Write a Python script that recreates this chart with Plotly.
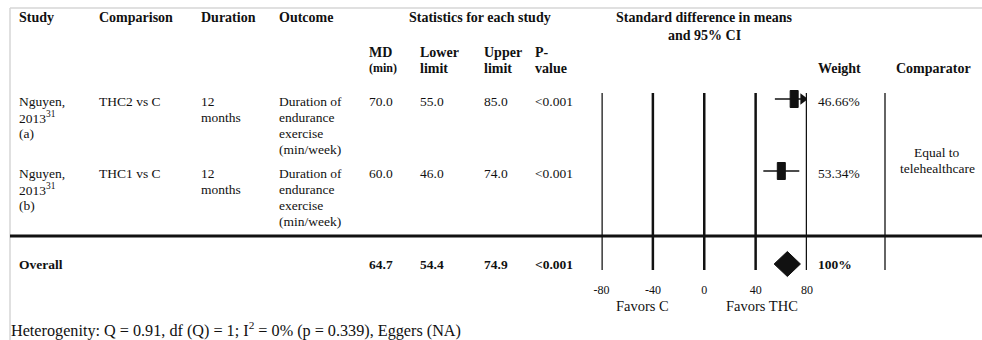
import plotly.graph_objects as go

# ---- data -------------------------------------------------------------
study_labels = ["Nguyen,<br>2013<sup>31</sup><br>(a)", "Nguyen,<br>2013<sup>31</sup><br>(b)"]
comparisons = ["THC2 vs C", "THC1 vs C"]
durations = ["12<br>months", "12<br>months"]
outcomes = ["Duration of<br>endurance<br>exercise<br>(min/week)",
            "Duration of<br>endurance<br>exercise<br>(min/week)"]
md = [70.0, 60.0]
lower = [55.0, 46.0]
upper = [85.0, 74.0]
p_values = ["<0.001", "<0.001"]
weights = [46.66, 53.34]

overall_md = 64.7
overall_lower = 54.4
overall_upper = 74.9
overall_p = "<0.001"
overall_weight = "100%"

comparator = "Equal to<br>telehealthcare"
heterogeneity = ("Heterogenity: Q = 0.91, df (Q) = 1; I<sup>2</sup> = 0% (p = 0.339), "
                 "Eggers (NA)")

axis_ticks = [-80, -40, 0, 40, 80]
axis_min, axis_max = -80, 80
favors_left = "Favors C"
favors_right = "Favors THC"

# ---- layout constants (pixels) ---------------------------------------
W, H = 982, 340
FONT = "Liberation Serif, Times New Roman, serif"
INK = "#111111"
LINE_H = 16
BODY = 13.5
HEAD = 14

row_y = [101, 173]          # first text line of each study row
mark_y = [99, 171]          # CI line / box centre of each study row
overall_y = 264
plot_top, plot_bottom = 93, 270
col_x = {"study": 18, "comp": 98, "dur": 200, "out": 278, "md": 368,
         "lo": 419, "hi": 483, "p": 534, "w": 817, "cmp": 895}
forest_left_px, forest_right_px = 601.5, 807.0

fig = go.Figure()
annotations = []
shapes = []


def px(x):
    return x / W


def text(x, y, s, size=BODY, bold=False, anchor="left"):
    """Place (possibly multi-line) text; each line gets its own annotation."""
    for i, line in enumerate(s.split("<br>")):
        if bold:
            line = f"<b>{line}</b>"
        annotations.append(dict(
            x=px(x), y=y + i * LINE_H, xref="paper", yref="y",
            text=line, showarrow=False, xanchor=anchor, yanchor="middle",
            borderpad=0,
            font=dict(family=FONT, size=size, color=INK)))


# ---- headers ---------------------------------------------------------
text(col_x["study"], 17, "Study", HEAD, True)
text(col_x["comp"], 17, "Comparison", HEAD, True)
text(col_x["dur"], 17, "Duration", HEAD, True)
text(col_x["out"], 17, "Outcome", HEAD, True)
text(480, 17, "Statistics for each study", HEAD, True, "center")
text(704, 17, "Standard difference in means", HEAD, True, "center")
text(704, 35, "and 95% CI", HEAD, True, "center")
text(col_x["md"], 52, "MD", HEAD, True)
text(col_x["md"], 68, "(min)", 12, True)
text(col_x["lo"], 52, "Lower<br>limit", HEAD, True)
text(col_x["hi"], 52, "Upper<br>limit", HEAD, True)
text(col_x["p"], 52, "P-<br>value", HEAD, True)
text(col_x["w"], 68, "Weight", HEAD, True)
text(col_x["cmp"], 68, "Comparator", HEAD, True)

# ---- study rows ------------------------------------------------------
for i in range(len(md)):
    y = row_y[i]
    text(col_x["study"], y, study_labels[i])
    text(col_x["comp"], y, comparisons[i])
    text(col_x["dur"], y, durations[i])
    text(col_x["out"], y, outcomes[i])
    text(col_x["md"], y, f"{md[i]:.1f}")
    text(col_x["lo"], y, f"{lower[i]:.1f}")
    text(col_x["hi"], y, f"{upper[i]:.1f}")
    text(col_x["p"], y, p_values[i])
    text(col_x["w"], y, f"{weights[i]:.2f}%")

text(937, 152, comparator, BODY, False, "center")

# ---- overall row -----------------------------------------------------
text(col_x["study"], overall_y, "Overall", BODY, True)
text(col_x["md"], overall_y, f"{overall_md:.1f}", BODY, True)
text(col_x["lo"], overall_y, f"{overall_lower:.1f}", BODY, True)
text(col_x["hi"], overall_y, f"{overall_upper:.1f}", BODY, True)
text(col_x["p"], overall_y, overall_p, BODY, True)
text(col_x["w"], overall_y, overall_weight, BODY, True)

text(10, 329, heterogeneity, 16.2)
text(642, 306, favors_left, 14.5, False, "center")
text(762, 306, favors_right, 14.5, False, "center")

# ---- frame and grid lines --------------------------------------------
grey = "#d6d6d6"
shapes.append(dict(type="line", xref="paper", yref="y", x0=px(10), x1=1.0,
                   y0=8, y1=8, line=dict(color=grey, width=1.5)))
shapes.append(dict(type="line", xref="paper", yref="y", x0=px(10), x1=px(10),
                   y0=8, y1=H, line=dict(color=grey, width=1.5)))
shapes.append(dict(type="line", xref="paper", yref="y", x0=px(10), x1=1.0,
                   y0=236, y1=236, line=dict(color=INK, width=3)))
for t in axis_ticks:
    shapes.append(dict(type="line", xref="x", yref="y", x0=t, x1=t,
                       y0=plot_top, y1=plot_bottom,
                       line=dict(color=INK, width=2.5)))
shapes.append(dict(type="line", xref="paper", yref="y", x0=px(885), x1=px(885),
                   y0=plot_top, y1=plot_bottom, line=dict(color=INK, width=1.3)))

# ---- forest marks ----------------------------------------------------
units_per_px = (axis_max - axis_min) / (forest_right_px - forest_left_px)
box_half_w = 4 * units_per_px
box_half_h = 8.5
for i in range(len(md)):
    y = mark_y[i]
    hi = min(upper[i], axis_max)
    fig.add_trace(go.Scatter(x=[lower[i], hi], y=[y, y], mode="lines",
                             line=dict(color=INK, width=1.6),
                             xaxis="x", yaxis="y", hoverinfo="skip",
                             showlegend=False))
    if upper[i] > axis_max:
        fig.add_trace(go.Scatter(x=[axis_max - 3.2], y=[y], mode="markers",
                                 marker=dict(symbol="triangle-right", size=10,
                                             color=INK),
                                 xaxis="x", yaxis="y", hoverinfo="skip",
                                 showlegend=False))
    shapes.append(dict(type="rect", xref="x", yref="y",
                       x0=md[i] - box_half_w, x1=md[i] + box_half_w,
                       y0=y - box_half_h, y1=y + box_half_h,
                       fillcolor=INK, line=dict(color=INK, width=1)))

dh = 12.5
fig.add_trace(go.Scatter(
    x=[overall_lower, overall_md, overall_upper, overall_md, overall_lower],
    y=[overall_y, overall_y - dh, overall_y, overall_y + dh, overall_y],
    mode="lines", fill="toself", fillcolor=INK, line=dict(color=INK, width=1),
    xaxis="x", yaxis="y", hoverinfo="skip", showlegend=False))

# ---- axes ------------------------------------------------------------
axis_line_px = 281
fig.update_layout(
    width=W, height=H, autosize=False,
    margin=dict(l=0, r=0, t=0, b=0, pad=0, autoexpand=False),
    paper_bgcolor="white", plot_bgcolor="white",
    showlegend=False,
    xaxis=dict(domain=[px(forest_left_px), px(forest_right_px)],
               range=[axis_min, axis_max], tickvals=axis_ticks,
               ticktext=[str(t) for t in axis_ticks],
               showgrid=False, zeroline=False, showline=False, ticks="",
               anchor="free", position=1 - axis_line_px / H,
               automargin=False,
               tickfont=dict(family=FONT, size=12, color=INK),
               fixedrange=True),
    yaxis=dict(domain=[0, 1], range=[H, 0], visible=False, fixedrange=True,
               automargin=False),
    annotations=annotations,
    shapes=shapes,
)

fig.write_html("out.html", config={"responsive": False, "displayModeBar": False})
